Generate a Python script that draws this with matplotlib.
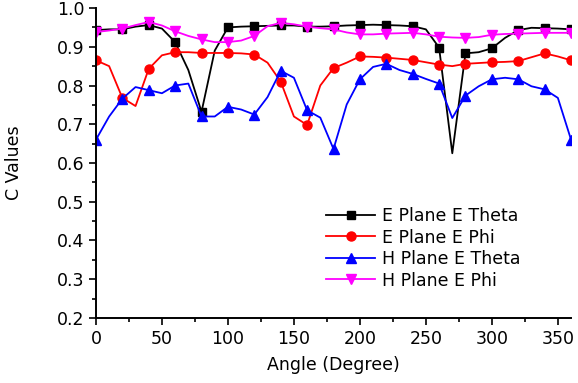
import matplotlib
matplotlib.use('Agg')
from matplotlib import pyplot as plt
from matplotlib.ticker import MultipleLocator

angles = list(range(0, 361, 10))

e_theta = [0.943, 0.945, 0.945, 0.952, 0.956, 0.947, 0.912, 0.840, 0.732, 0.890,
           0.950, 0.952, 0.953, 0.954, 0.955, 0.955, 0.952, 0.952, 0.953, 0.955,
           0.956, 0.957, 0.956, 0.955, 0.953, 0.945, 0.898, 0.625, 0.883, 0.886,
           0.896, 0.923, 0.943, 0.949, 0.948, 0.947, 0.945]
e_phi = [0.865, 0.850, 0.768, 0.747, 0.843, 0.878, 0.886, 0.886, 0.884, 0.884,
         0.884, 0.883, 0.880, 0.859, 0.810, 0.720, 0.698, 0.800, 0.845, 0.859,
         0.875, 0.874, 0.872, 0.869, 0.866, 0.860, 0.854, 0.850, 0.856, 0.858,
         0.860, 0.861, 0.863, 0.873, 0.883, 0.875, 0.865]
h_theta = [0.660, 0.720, 0.766, 0.796, 0.788, 0.780, 0.800, 0.805, 0.720, 0.720,
           0.745, 0.738, 0.725, 0.770, 0.838, 0.820, 0.736, 0.717, 0.636, 0.751,
           0.816, 0.848, 0.856, 0.840, 0.830, 0.817, 0.805, 0.716, 0.774, 0.798,
           0.816, 0.820, 0.816, 0.798, 0.790, 0.768, 0.660]
h_phi = [0.938, 0.942, 0.947, 0.956, 0.964, 0.955, 0.940, 0.928, 0.919, 0.912,
         0.912, 0.916, 0.928, 0.953, 0.962, 0.958, 0.952, 0.948, 0.945, 0.937,
         0.932, 0.932, 0.934, 0.935, 0.936, 0.932, 0.926, 0.924, 0.923, 0.925,
         0.931, 0.933, 0.934, 0.935, 0.936, 0.936, 0.936]

series = [
    (e_theta, 'E Plane E Theta', '#000000', 's', 6),
    (e_phi, 'E Plane E Phi', '#ff0000', 'o', 6.5),
    (h_theta, 'H Plane E Theta', '#0000ff', '^', 7.5),
    (h_phi, 'H Plane E Phi', '#ff00ff', 'v', 7.5),
]

plt.rcParams['font.family'] = ['DejaVu Sans']
fig = plt.figure(figsize=(5.78, 3.83), dpi=100)
ax = fig.add_axes([0.166, 0.170, 0.822, 0.809])

for vals, label, color, marker, ms in series:
    ax.plot(angles, vals, color=color, lw=1.3, marker=marker, markersize=ms,
            markevery=2, label=label)

ax.set_xlim(0, 360)
ax.set_ylim(0.2, 1.0)
ax.xaxis.set_major_locator(MultipleLocator(50))
ax.xaxis.set_minor_locator(MultipleLocator(25))
ax.yaxis.set_major_locator(MultipleLocator(0.1))
ax.yaxis.set_minor_locator(MultipleLocator(0.05))
ax.tick_params(which='major', direction='out', length=5, width=1.2, labelsize=12.5)
ax.tick_params(which='minor', direction='out', length=3, width=1.2)
ax.spines['top'].set_visible(False)
ax.spines['right'].set_visible(False)
ax.spines['left'].set_linewidth(1.4)
ax.spines['bottom'].set_linewidth(1.4)

ax.set_xlabel('Angle (Degree)', fontsize=12.5, labelpad=6)
ax.set_ylabel('C Values', fontsize=12.5, labelpad=24)

ax.legend(loc='upper left', bbox_to_anchor=(0.47, 0.38), frameon=False,
          fontsize=12.5, handlelength=2.8, labelspacing=0.2,
          handletextpad=0.4, borderaxespad=0)

fig.savefig('out.png', dpi=100)
